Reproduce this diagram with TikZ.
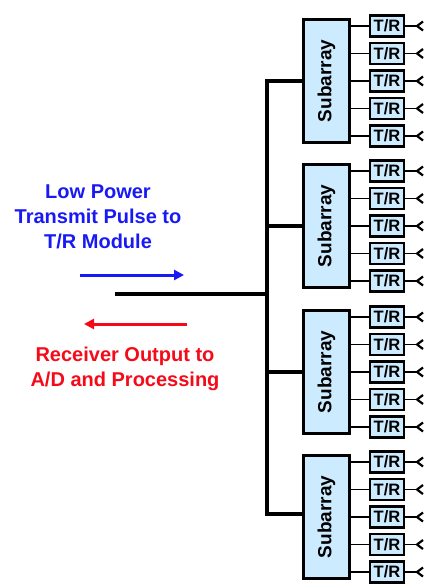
\documentclass[tikz,border=0pt]{standalone}
\usepackage{fontspec}
\setmainfont{Liberation Sans}
\usetikzlibrary{arrows.meta, calc}
\definecolor{subblue}{RGB}{204,235,255}
\definecolor{txblue}{RGB}{25,25,245}
\definecolor{rxred}{RGB}{245,10,25}
\tikzset{
  sub/.style={draw, line width=3pt, fill=subblue, minimum width=46pt, minimum height=123pt,
    inner sep=0pt, font=\fontsize{19}{19}\selectfont\bfseries},
  trbox/.style={draw, line width=2.4pt, fill=subblue, minimum width=34pt, minimum height=21pt,
    inner sep=0pt, font=\fontsize{16.5}{16.5}\selectfont\bfseries},
  bus/.style={line width=4pt, line join=miter},
  tie/.style={line width=1.6pt},
  elem/.style={line width=2.2pt, line join=round},
  sig/.style={line width=3pt, -{Triangle[length=10pt, width=10pt]}},
  txt/.style={align=center, font=\fontsize{20}{25}\selectfont\bfseries},
}
\begin{document}
\begin{tikzpicture}[x=1pt, y=-1pt]
    \useasboundingbox (0,0) rectangle (423,588);
    % subarrays
    \node[sub] (sa1) at (326.5,81) {\rotatebox{90}{Subarray}};
    \node[sub] (sa2) at (326.5,226) {\rotatebox{90}{Subarray}};
    \node[sub] (sa3) at (326.5,372) {\rotatebox{90}{Subarray}};
    \node[sub] (sa4) at (326.5,517) {\rotatebox{90}{Subarray}};
    % T/R modules and elements
    \foreach \s in {1,2,3,4} {
      \foreach \k/\dy in {1/-55,2/-27.5,3/0,4/27.5,5/55} {
        \node[trbox] (tr\s\k) at ($(sa\s.center)+(60.5,\dy)$) {T/R};
        \coordinate (ant\s\k) at ($(tr\s\k.center)+(30,0)$);
        \draw[tie] (tr\s\k.west -| sa\s.east) -- (tr\s\k.west);
        \draw[tie] (tr\s\k.east) -- (ant\s\k);
        \draw[elem] ($(ant\s\k)+(6,-4.5)$) -- (ant\s\k) -- ($(ant\s\k)+(6,4.5)$);
      }
    }
    % bus
    \coordinate (b1) at (267,81);
    \coordinate (b4) at (267,514);
    \coordinate (feed) at (115,294);
    \draw[bus] (sa1.west) -- (b1) -- (b4) -- (sa4.west |- b4);
    \draw[bus] (sa2.west -| b1) -- (sa2.west);
    \draw[bus] (sa3.west -| b1) -- (sa3.west);
    \draw[bus] (feed) -- (feed -| b1);
    % signal arrows and labels
    \node[txt, text=txblue] (txlbl) at (98,217) {Low Power\\Transmit Pulse to\\T/R Module};
    \node[txt, text=rxred] (rxlbl) at (125,369) {Receiver Output to\\A/D and Processing};
    \coordinate (txa) at (80,275);
    \coordinate (txb) at (184,275);
    \coordinate (rxa) at (187,324);
    \coordinate (rxb) at (84,324);
    \draw[sig, txblue] (txa) -- (txb);
    \draw[sig, rxred] (rxa) -- (rxb);
\end{tikzpicture}
\end{document}
